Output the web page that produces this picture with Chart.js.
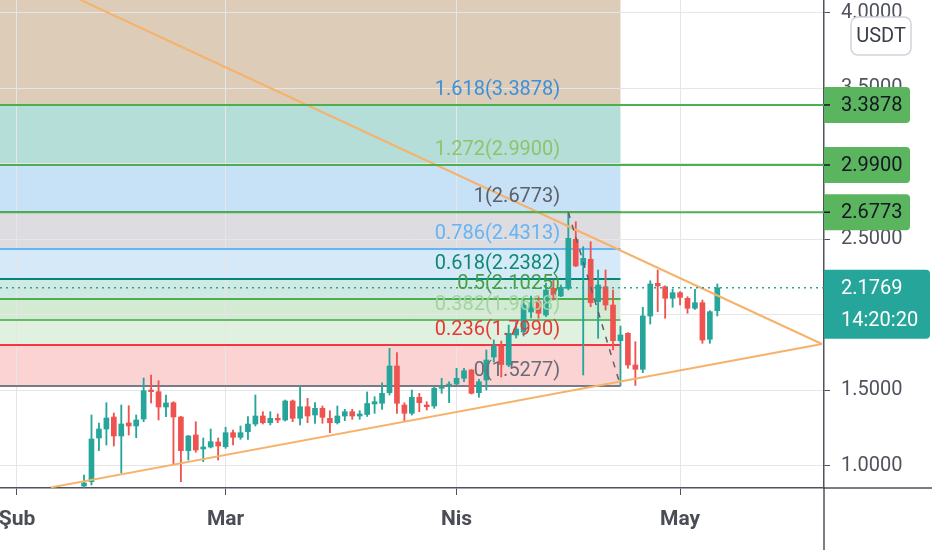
<!DOCTYPE html>
<html>
<head>
<meta charset="utf-8">
<script src="https://cdn.jsdelivr.net/npm/chart.js@4.4.1/dist/chart.umd.min.js"></script>
<style>
  html, body { margin: 0; padding: 0; background: #ffffff; }
  #wrap { width: 932px; height: 550px; }
</style>
</head>
<body>
<div id="wrap"><canvas id="canvas-chart" width="932" height="550"></canvas></div>
<script>
// Dagar räknas från 1 februari (dag 0), en candle per dag.
const candleDays = [9, 10, 11, 12, 13, 14, 15, 16, 17, 18, 19, 20, 21, 22, 23, 24, 25, 26, 27, 28,
  29, 30, 31, 32, 33, 34, 35, 36, 37, 38, 39, 40, 41, 42, 43, 44, 45, 46, 47, 48,
  49, 50, 51, 52, 53, 54, 55, 56, 57, 58, 59, 60, 61, 62, 63, 64, 65, 66, 67, 68,
  69, 70, 71, 72, 73, 74, 75, 76, 77, 78, 79, 80, 81, 82, 83, 84, 85, 86, 87, 88,
  89, 90, 91, 92, 93, 94];
const candleOpen = [0.8642, 0.8927, 1.1821, 1.2417, 1.3212, 1.1954, 1.2815, 1.2616, 1.3079, 1.5000,
  1.4887, 1.3874, 1.4159, 1.3212, 1.0980, 1.2020, 1.1093, 1.1225, 1.1556, 1.1245,
  1.2172, 1.1868, 1.2238, 1.2748, 1.3278, 1.2834, 1.3126, 1.3013, 1.4272, 1.3126,
  1.3894, 1.3344, 1.3788, 1.3126, 1.2834, 1.3278, 1.3563, 1.3278, 1.3377, 1.4073,
  1.4119, 1.4821, 1.6589, 1.4007, 1.3457, 1.4517, 1.4007, 1.3940, 1.5113, 1.5331,
  1.5397, 1.5775, 1.6325, 1.4821, 1.5662, 1.7185, 1.7914, 1.6656, 1.8642, 1.8841,
  2.0166, 2.0848, 1.9967, 2.1735, 2.1225, 2.1735, 2.4980, 2.3278, 2.3656, 2.0848,
  2.1841, 2.0629, 1.8265, 1.8755, 1.6656, 1.6371, 1.9901, 2.2066, 2.1841, 2.1073,
  2.1444, 2.1073, 2.0411, 2.0781, 1.8358, 2.0252];
const candleHigh = [0.9371, 1.3344, 1.2815, 1.4159, 1.3477, 1.4007, 1.3960, 1.3344, 1.5795, 1.5993,
  1.5616, 1.4669, 1.4225, 1.3250, 1.2000, 1.2901, 1.1821, 1.2417, 1.1821, 1.2530,
  1.2351, 1.2616, 1.3232, 1.4669, 1.3563, 1.3563, 1.3411, 1.4338, 1.4338, 1.5265,
  1.4450, 1.4159, 1.3940, 1.3629, 1.3940, 1.3722, 1.3722, 1.3629, 1.4868, 1.4556,
  1.5483, 1.7762, 1.7470, 1.4159, 1.5000, 1.4781, 1.4225, 1.5179, 1.5775, 1.5550,
  1.6437, 1.6437, 1.6360, 1.5709, 1.7649, 1.8311, 1.8245, 1.9305, 1.9503, 2.0960,
  2.1225, 2.1179, 2.2086, 2.2285, 2.1954, 2.6773, 2.6146, 2.4490, 2.4821, 2.2947,
  2.2947, 2.1623, 1.9238, 1.8800, 1.8199, 2.0477, 2.2238, 2.2947, 2.1900, 2.1669,
  2.1510, 2.1179, 2.1669, 2.0960, 2.0252, 2.2020];
const candleLow = [0.8550, 0.8709, 1.0980, 1.1358, 1.1291, 0.9503, 1.2020, 1.1841, 1.2901, 1.4139,
  1.3013, 1.3232, 1.0033, 0.8927, 1.0364, 1.0874, 1.0252, 1.1159, 1.0364, 1.1139,
  1.1358, 1.1735, 1.1735, 1.2616, 1.2748, 1.2682, 1.2834, 1.2947, 1.2901, 1.2682,
  1.2834, 1.2795, 1.2795, 1.2172, 1.2748, 1.2967, 1.3060, 1.3060, 1.3245, 1.3457,
  1.3722, 1.4669, 1.3457, 1.2967, 1.3344, 1.3563, 1.3675, 1.3788, 1.4781, 1.4159,
  1.5331, 1.5550, 1.4735, 1.4517, 1.5000, 1.6854, 1.5861, 1.6543, 1.8444, 1.8576,
  1.9768, 1.9748, 1.9854, 2.0960, 2.1179, 2.1623, 2.3166, 1.5993, 2.0517, 1.8424,
  2.0298, 1.7649, 1.5277, 1.6437, 1.5300, 1.6146, 1.9371, 2.0185, 1.9748, 2.0477,
  2.0629, 2.0079, 2.0344, 1.8093, 1.8093, 1.9901];
const candleClose = [0.8841, 1.1755, 1.2417, 1.3146, 1.1954, 1.2748, 1.2616, 1.3013, 1.4954, 1.4887,
  1.3874, 1.4139, 1.3212, 1.0980, 1.1954, 1.1026, 1.1225, 1.1576, 1.1291, 1.2172,
  1.1868, 1.2172, 1.2748, 1.3278, 1.2834, 1.3126, 1.3013, 1.4272, 1.3126, 1.3894,
  1.3278, 1.3788, 1.3192, 1.2834, 1.3278, 1.3563, 1.3278, 1.3411, 1.4106, 1.4225,
  1.4781, 1.6589, 1.4119, 1.3457, 1.4517, 1.4159, 1.3894, 1.5113, 1.5219, 1.5397,
  1.5775, 1.6278, 1.4781, 1.5550, 1.6987, 1.7914, 1.6689, 1.8755, 1.9040, 2.0629,
  2.0762, 2.0079, 2.1623, 2.1291, 2.1801, 2.5046, 2.3212, 2.3722, 2.0781, 2.1954,
  2.0629, 1.8265, 1.8642, 1.6656, 1.6371, 1.9901, 2.2020, 2.1887, 2.1073, 2.1444,
  2.1139, 2.0411, 2.0781, 1.8311, 2.0185, 2.1769];

// Axlar: prisetiketter och månader (dag-index för den 1:a i varje månad).
const priceTicks = [1, 1.5, 2, 2.5, 3, 3.5, 4];
const monthTicks = [0, 28, 59, 89];
const monthLabels = ["Şub", "Mar", "Nis", "May"];
const xMin = -2.28;
const xMax = 108.32;
const yMin = 0.851;
const yMax = 4.0828;

// Fibonacci-nivåer (från topp dag 74 till botten dag 81).
const fibRatios = [0, 0.236, 0.382, 0.5, 0.618, 0.786, 1, 1.272, 1.618, 2.618];
const fibPrices = [1.5277, 1.7990, 1.9668, 2.1025, 2.2382, 2.4313, 2.6773, 2.9900, 3.3878, 4.5374];
const fibStartDay = 74;
const fibEndDay = 81;

// Horisontella linjer, senaste pris och nedräkning.
const hLinePrices = [3.3878, 2.9900, 2.6773];
const lastPrice = 2.1769;
const countdown = "14:20:20";
const currency = "USDT";

// Triangelns trendlinjer (dag, pris).
const upperTrendDays = [8.56, 108.05];
const upperTrendPrices = [4.0828, 1.8046];
const lowerTrendDays = [4.55, 108.05];
const lowerTrendPrices = [0.855, 1.8046];

// Färger
const upColor = "#26a69a";
const downColor = "#ef5350";
const fibLineColors = ["#787b86", "#f23645", "#66bb6a", "#4caf50", "#00897b", "#64b5f6", "#787b86", "#81c784", "#2962ff", "#f23645"];
const fibLabelColors = ["#6a6d78", "#e53935", "#a3d3a3", "#43a047", "#0b8a78", "#64b5f6", "#5d606b", "#8cc56a", "#3d8fd8", "#f23645"];
const fibFillColors = ["#fcd3d3", "#e0f1df", "#d3ead3", "#d0e9e2", "#d6e9f8", "#dcdce1", "#c7e2f6", "#b5ded8", "#ddcdb8"];
const fontFamily = "Roboto, 'Noto Sans', sans-serif";

const candleColors = candleOpen.map((o, i) => (candleClose[i] >= o ? upColor : downColor));

// Hjälpfunktion för linje-dataset med två eller fler punkter.
const lineSet = (xs, ys, color, width, dash) => ({
  type: "line",
  data: xs.map((x, i) => ({ x: x, y: ys[i] })),
  borderColor: color,
  borderWidth: width,
  borderDash: dash || [],
  pointRadius: 0,
  tension: 0,
  order: 0,
});

// Plugin som ritar fib-ytor, fib-linjer, etiketter och pris-taggar.
const fibPlugin = {
  id: "fibPlugin",
  beforeDraw(chart) {
    const { ctx, chartArea: a, scales } = chart;
    const xr = scales.x.getPixelForValue(fibEndDay);
    ctx.save();
    ctx.beginPath();
    ctx.rect(a.left, a.top, a.right - a.left, a.bottom - a.top);
    ctx.clip();
    for (let i = 0; i < fibPrices.length - 1; i++) {
      const y1 = scales.y.getPixelForValue(fibPrices[i]);
      const y2 = scales.y.getPixelForValue(fibPrices[i + 1]);
      ctx.fillStyle = fibFillColors[i];
      ctx.fillRect(a.left, y2, xr - a.left, y1 - y2);
    }
    ctx.restore();
  },
  beforeDatasetsDraw(chart) {
    const { ctx, chartArea: a, scales } = chart;
    const xr = scales.x.getPixelForValue(fibEndDay);
    ctx.save();
    ctx.beginPath();
    ctx.rect(a.left, a.top, a.right - a.left, a.bottom - a.top);
    ctx.clip();
    ctx.lineWidth = 2;
    fibPrices.forEach((p, i) => {
      const y = Math.round(scales.y.getPixelForValue(p));
      ctx.strokeStyle = fibLineColors[i];
      ctx.beginPath();
      ctx.moveTo(a.left, y);
      ctx.lineTo(xr, y);
      ctx.stroke();
    });
    ctx.restore();
  },
  afterDatasetsDraw(chart) {
    const { ctx, chartArea: a, scales } = chart;
    const xl = scales.x.getPixelForValue(fibStartDay) - 8;
    ctx.save();
    ctx.beginPath();
    ctx.rect(a.left, a.top, a.right - a.left, a.bottom - a.top);
    ctx.clip();
    ctx.font = "20px " + fontFamily;
    ctx.textAlign = "right";
    ctx.textBaseline = "middle";
    fibPrices.forEach((p, i) => {
      const y = scales.y.getPixelForValue(p);
      ctx.fillStyle = fibLabelColors[i];
      ctx.fillText(fibRatios[i] + "(" + p.toFixed(4) + ")", xl, y - 15);
    });
    ctx.restore();
  },
  afterDraw(chart) {
    const { ctx, chartArea: a, scales } = chart;
    ctx.save();
    // Förlänger axellinjerna ut till kanten.
    ctx.strokeStyle = "#50535e";
    ctx.lineWidth = 1.5;
    ctx.beginPath();
    ctx.moveTo(a.right, a.bottom);
    ctx.lineTo(a.right, chart.height);
    ctx.moveTo(a.right, a.bottom);
    ctx.lineTo(chart.width, a.bottom);
    ctx.stroke();

    ctx.font = "20px " + fontFamily;
    ctx.textAlign = "left";
    ctx.textBaseline = "middle";
    // Gröna pris-taggar för de horisontella linjerna.
    hLinePrices.forEach((p) => {
      const y = scales.y.getPixelForValue(p);
      ctx.fillStyle = "#5ab55e";
      ctx.beginPath();
      ctx.roundRect(a.right, y - 18, 86, 36, [0, 4, 4, 0]);
      ctx.fill();
      ctx.strokeStyle = "#131722";
      ctx.beginPath();
      ctx.moveTo(a.right, y);
      ctx.lineTo(a.right + 6, y);
      ctx.stroke();
      ctx.fillStyle = "#131722";
      ctx.fillText(p.toFixed(4), a.right + 17, y + 1);
    });
    // Senaste pris med nedräkning.
    const ly = scales.y.getPixelForValue(lastPrice);
    ctx.fillStyle = upColor;
    ctx.beginPath();
    ctx.roundRect(a.right, ly - 18, 106, 69, [0, 4, 4, 0]);
    ctx.fill();
    ctx.fillStyle = "#ffffff";
    ctx.fillText(lastPrice.toFixed(4), a.right + 17, ly + 1);
    ctx.fillText(countdown, a.right + 17, ly + 33);
    // Valutaruta uppe till höger.
    ctx.fillStyle = "#ffffff";
    ctx.strokeStyle = "#d1d4dc";
    ctx.lineWidth = 1.5;
    ctx.beginPath();
    ctx.roundRect(a.right + 27, 17, 60, 38, 7);
    ctx.fill();
    ctx.stroke();
    ctx.fillStyle = "#3b3e47";
    ctx.textAlign = "center";
    ctx.fillText(currency, a.right + 57, 37);
    ctx.restore();
  },
};

const wickData = candleDays.map((d, i) => ({ x: d, y: [candleLow[i], candleHigh[i]] }));
const bodyData = candleDays.map((d, i) => ({ x: d, y: [candleOpen[i], candleClose[i]] }));

Chart.defaults.font.family = fontFamily;

const chart = new Chart(document.getElementById("canvas-chart"), {
  type: "bar",
  data: {
    datasets: [
      {
        data: wickData,
        backgroundColor: candleColors,
        barThickness: 1.2,
        grouped: false,
        order: 3,
      },
      {
        data: bodyData,
        backgroundColor: candleColors,
        barThickness: 5,
        minBarLength: 1,
        grouped: false,
        order: 2,
      },
      lineSet([xMin, xMax], [lastPrice, lastPrice], upColor, 1.5, [2, 4]),
      lineSet([fibStartDay, fibEndDay], [fibPrices[6], fibPrices[0]], "#5d606b", 1.5, [6, 7]),
      ...hLinePrices.map((p) => lineSet([xMin, xMax], [p, p], "#4caf50", 2)),
      lineSet(upperTrendDays, upperTrendPrices, "#f6b26b", 2),
      lineSet(lowerTrendDays, lowerTrendPrices, "#f6b26b", 2),
    ],
  },
  options: {
    responsive: false,
    animation: false,
    layout: { padding: 0 },
    plugins: {
      legend: { display: false },
      tooltip: { enabled: false },
    },
    scales: {
      x: {
        type: "linear",
        min: xMin,
        max: xMax,
        offset: false,
        afterBuildTicks: (scale) => {
          scale.ticks = monthTicks.map((v) => ({ value: v }));
        },
        // Fast höjd och ingen extra marginal för etiketter i kanterna.
        afterFit: (scale) => {
          scale.height = 62;
          scale.paddingLeft = 0;
          scale.paddingRight = 0;
        },
        ticks: {
          callback: (value, index) => monthLabels[index],
          color: "#4a4d55",
          font: { size: 21, weight: "bold" },
          padding: 12,
          maxRotation: 0,
          autoSkip: false,
        },
        grid: { color: "#e6e6e8", tickColor: "#50535e", tickLength: 7, offset: false },
        border: { color: "#50535e", width: 1.5 },
      },
      y: {
        position: "right",
        min: yMin,
        max: yMax,
        afterBuildTicks: (scale) => {
          scale.ticks = priceTicks.map((v) => ({ value: v }));
        },
        afterFit: (scale) => {
          scale.width = 108;
          scale.paddingTop = 0;
          scale.paddingBottom = 0;
        },
        ticks: {
          callback: (value) => value.toFixed(4),
          color: "#50535e",
          font: { size: 20 },
          padding: 11,
        },
        grid: { color: "#e6e6e8", tickColor: "#50535e", tickLength: 6 },
        border: { color: "#50535e", width: 1.5 },
      },
    },
  },
  plugins: [fibPlugin],
});
</script>
</body>
</html>
